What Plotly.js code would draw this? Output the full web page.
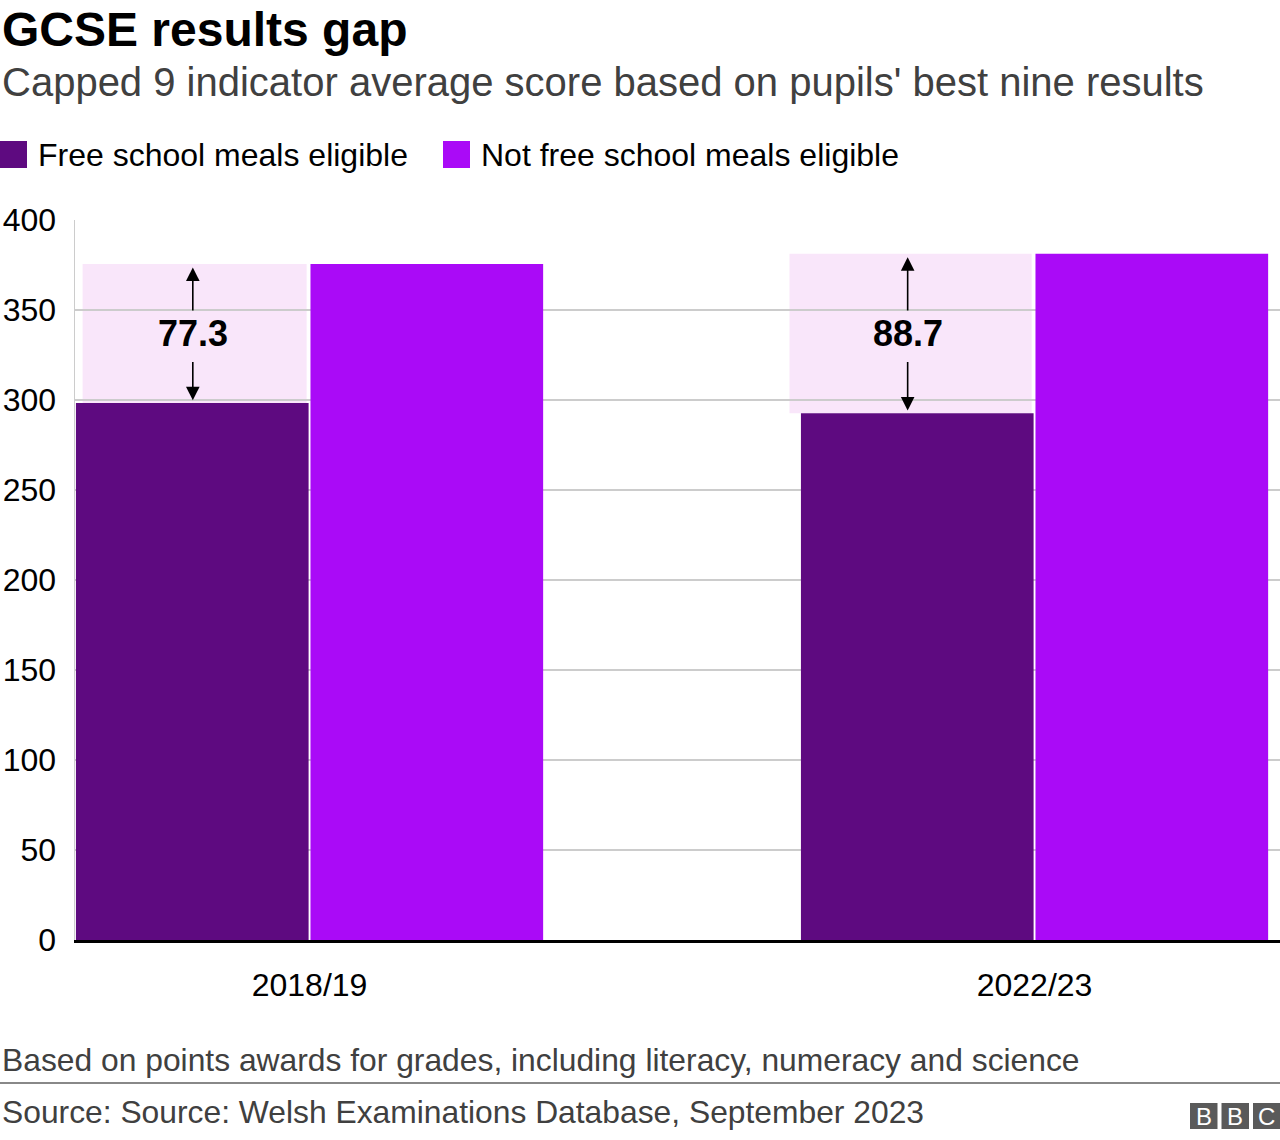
<!DOCTYPE html>
<html>
<head>
<meta charset="utf-8">
<script src="https://cdn.plot.ly/plotly-3.0.1.min.js"></script>
<style>html,body{margin:0;padding:0;background:#fff;}#chart{width:1280px;height:1140px;}</style>
</head>
<body>
<div id="chart"></div>
<script>
// ---- data ----
const categories = ['2018/19', '2022/23'];
const fsmValues = [298.3, 292.6];
const notFsmValues = [375.6, 381.3];
const gapLabels = ['77.3', '88.7'];
const yTicks = [0, 50, 100, 150, 200, 250, 300, 350, 400];

// ---- layout helpers ----
const W = 1280, H = 1140;
const L = 75, R = 0, T = 220, B = 200;
const PW = W - L - R, PH = H - T - B;
const px = x => (x - L) / PW;
const py = y => (H - B - y) / PH;
const FONT = '"Liberation Sans", Arial, sans-serif';

const fsmColor = '#5e0a80';
const notFsmColor = '#aa0af7';

const traces = [
  {type: 'bar', x: categories, y: fsmValues, name: 'Free school meals eligible',
   marker: {color: fsmColor}, hoverinfo: 'none'},
  {type: 'bar', x: categories, y: notFsmValues, name: 'Not free school meals eligible',
   marker: {color: notFsmColor}, hoverinfo: 'none'}
];

const shapes = [];
const annotations = [];

// gap highlight boxes, arrows and labels
const boxLeft = [-0.313, -0.338];
const arrowX = [-0.161, -0.175];
categories.forEach((c, i) => {
  shapes.push({type: 'rect', xref: 'x', yref: 'y', layer: 'below',
    x0: i + boxLeft[i], x1: i - 0.004, y0: fsmValues[i], y1: notFsmValues[i],
    fillcolor: '#f9e6fa', line: {width: 0}});
  const xm = i + arrowX[i];
  const mid = (fsmValues[i] + notFsmValues[i]) / 2;
  annotations.push({xref: 'x', yref: 'y', x: xm, y: mid, text: '<b>' + gapLabels[i] + '</b>',
    showarrow: false, font: {family: FONT, size: 36, color: '#000'}});
  // up arrow
  annotations.push({xref: 'x', yref: 'y', axref: 'x', ayref: 'y',
    x: xm, y: notFsmValues[i] - 2, ax: xm, ay: mid + 12, text: '', showarrow: true,
    arrowhead: 2, arrowsize: 1.7, arrowwidth: 1.6, arrowcolor: '#000'});
  // down arrow
  annotations.push({xref: 'x', yref: 'y', axref: 'x', ayref: 'y',
    x: xm, y: fsmValues[i] + 1.5, ax: xm, ay: mid - 15, text: '', showarrow: true,
    arrowhead: 2, arrowsize: 1.7, arrowwidth: 1.6, arrowcolor: '#000'});
});

// title & subtitle
annotations.push({xref: 'paper', yref: 'paper', x: px(0), y: py(29), xanchor: 'left', yanchor: 'middle',
  text: '<b>GCSE results gap</b>', showarrow: false, font: {family: FONT, size: 48, color: '#000'}});
annotations.push({xref: 'paper', yref: 'paper', x: px(0), y: py(82), xanchor: 'left', yanchor: 'middle',
  text: "Capped 9 indicator average score based on pupils' best nine results", showarrow: false,
  font: {family: FONT, size: 40, color: '#404040'}});

// legend
const legendItems = [
  {label: 'Free school meals eligible', color: fsmColor, x: 0},
  {label: 'Not free school meals eligible', color: notFsmColor, x: 443}
];
legendItems.forEach(it => {
  shapes.push({type: 'rect', xref: 'paper', yref: 'paper', x0: px(it.x), x1: px(it.x + 27),
    y0: py(168), y1: py(141), fillcolor: it.color, line: {width: 0}});
  annotations.push({xref: 'paper', yref: 'paper', x: px(it.x + 36), y: py(155), xanchor: 'left', yanchor: 'middle',
    text: it.label, showarrow: false, font: {family: FONT, size: 32, color: '#000'}});
});

// footer
annotations.push({xref: 'paper', yref: 'paper', x: px(0), y: py(1060), xanchor: 'left', yanchor: 'middle',
  text: 'Based on points awards for grades, including literacy, numeracy and science', showarrow: false,
  font: {family: FONT, size: 31.8, color: '#404040'}});
shapes.push({type: 'line', xref: 'paper', yref: 'paper', x0: px(0), x1: px(1280), y0: py(1083), y1: py(1083),
  line: {color: '#888888', width: 2}});
annotations.push({xref: 'paper', yref: 'paper', x: px(0), y: py(1112), xanchor: 'left', yanchor: 'middle',
  text: 'Source: Source: Welsh Examinations Database, September 2023', showarrow: false,
  font: {family: FONT, size: 31.8, color: '#404040'}});

// BBC logo
['B', 'B', 'C'].forEach((ch, k) => {
  const x0 = 1190 + k * 31.5;
  shapes.push({type: 'rect', xref: 'paper', yref: 'paper', x0: px(x0), x1: px(x0 + 27.5),
    y0: py(1129), y1: py(1103), fillcolor: '#5a5a5a', line: {width: 0}});
  annotations.push({xref: 'paper', yref: 'paper', x: px(x0 + 13.75), y: py(1116.5), xanchor: 'center', yanchor: 'middle',
    text: ch, showarrow: false, font: {family: FONT, size: 24, color: '#fff'}});
});

const layout = {
  width: W, height: H,
  margin: {l: L, r: R, t: T, b: B, pad: 0},
  paper_bgcolor: '#fff', plot_bgcolor: '#fff',
  showlegend: false,
  barmode: 'group', bargap: 0.353, bargroupgap: 0.008,
  xaxis: {type: 'category', range: [-0.3235, -0.3235 + PW / 725], fixedrange: true,
    showgrid: false, zeroline: false, showline: true, linecolor: '#000', linewidth: 3,
    ticks: '', ticklabelstandoff: 15,
    tickfont: {family: FONT, size: 32, color: '#000'}},
  yaxis: {range: [0, 400], tickvals: yTicks, ticktext: yTicks.map(String), fixedrange: true,
    showgrid: true, gridcolor: '#cccccc', gridwidth: 1.5, zeroline: false,
    showline: true, linecolor: '#cccccc', linewidth: 1.5,
    ticks: '', ticklabelstandoff: 11,
    tickfont: {family: FONT, size: 32, color: '#000'}},
  shapes: shapes,
  annotations: annotations,
  font: {family: FONT}
};

Plotly.newPlot('chart', traces, layout, {staticPlot: true, displayModeBar: false});
</script>
</body>
</html>
